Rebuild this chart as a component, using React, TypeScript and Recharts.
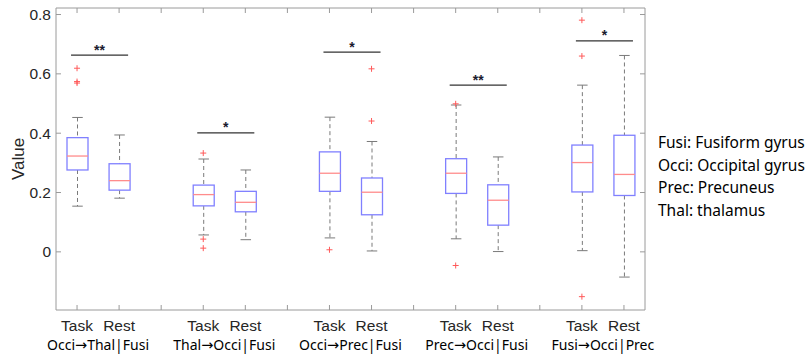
import React from 'react';
import { ComposedChart, Bar, Line, XAxis, YAxis, ReferenceLine } from 'recharts';

// one slot per box, with an empty slot between the groups
const slots = ['t1', 'r1', 'g1', 't2', 'r2', 'g2', 't3', 'r3', 'g3', 't4', 'r4', 'g4', 't5', 'r5'];
const tickLabels = ['Task', 'Rest', '', 'Task', 'Rest', '', 'Task', 'Rest', '', 'Task', 'Rest', '', 'Task', 'Rest'];
const groupFrom = ['Occi', 'Thal', 'Occi', 'Prec', 'Fusi'];
const groupTo = ['Thal|Fusi', 'Occi|Fusi', 'Prec|Fusi', 'Occi|Fusi', 'Occi|Prec'];

const whiskerLow = [0.154, 0.181, null, 0.057, 0.041, null, 0.047, 0.003, null, 0.044, 0.001, null, 0.004, -0.085];
const q1 = [0.276, 0.208, null, 0.155, 0.135, null, 0.204, 0.125, null, 0.197, 0.09, null, 0.202, 0.19];
const median = [0.323, 0.24, null, 0.193, 0.167, null, 0.265, 0.201, null, 0.265, 0.174, null, 0.301, 0.261];
const q3 = [0.385, 0.297, null, 0.225, 0.204, null, 0.337, 0.249, null, 0.314, 0.226, null, 0.36, 0.393];
const whiskerHigh = [0.453, 0.394, null, 0.313, 0.276, null, 0.454, 0.372, null, 0.495, 0.32, null, 0.562, 0.662];
const outliers: number[][] = [
  [0.619, 0.574, 0.569], [], [],
  [0.333, 0.043, 0.0125], [], [],
  [0.007], [0.617, 0.441], [],
  [0.499, -0.046], [], [],
  [0.781, 0.66, -0.151], [],
];

const sigLevels = [0.663, 0.401, 0.673, 0.562, 0.711];
const sigStars = ['**', '*', '*', '**', '*'];

const legendLines = ['Fusi: Fusiform gyrus', 'Occi: Occipital gyrus', 'Prec: Precuneus', 'Thal: thalamus'];

const yTicks = [0, 0.2, 0.4, 0.6, 0.8];

const data = slots.map((slot, i) => ({
  slot,
  whisker: whiskerLow[i] == null ? null : [whiskerLow[i], whiskerHigh[i]],
  lo: whiskerLow[i],
  q1: q1[i],
  median: median[i],
  q3: q3[i],
  hi: whiskerHigh[i],
  o1: outliers[i][0] ?? null,
  o2: outliers[i][1] ?? null,
  o3: outliers[i][2] ?? null,
}));

const AXIS = '#9a9a9a';
const TEXT = '#262626';
const SANS = '"Liberation Sans", Arial, sans-serif';
const NOTE = '"Noto Sans", "Open Sans", sans-serif';

const BoxShape = (props: any) => {
  const { x, y, width, height, payload } = props;
  if (!payload || payload.lo == null || !height) return <g />;
  const top = Math.min(y, y + height);
  const h = Math.abs(height);
  const k = h / (payload.hi - payload.lo);
  const py = (v: number) => top + (payload.hi - v) * k;
  const cx = x + width / 2;
  const cap = width / 4;
  return (
    <g>
      <line x1={cx} x2={cx} y1={py(payload.hi)} y2={py(payload.q3)} stroke="#7a7a7a" strokeDasharray="4 3" />
      <line x1={cx} x2={cx} y1={py(payload.q1)} y2={py(payload.lo)} stroke="#7a7a7a" strokeDasharray="4 3" />
      <line x1={cx - cap} x2={cx + cap} y1={py(payload.hi)} y2={py(payload.hi)} stroke="#7a7a7a" />
      <line x1={cx - cap} x2={cx + cap} y1={py(payload.lo)} y2={py(payload.lo)} stroke="#7a7a7a" />
      <rect x={x} y={py(payload.q3)} width={width} height={py(payload.q1) - py(payload.q3)} fill="#fff" stroke="#8080ff" strokeWidth={1.3} />
      <line x1={x} x2={x + width} y1={py(payload.median)} y2={py(payload.median)} stroke="#ff8c8c" strokeWidth={1.3} />
    </g>
  );
};

const PlusDot = (props: any) => {
  const { cx, cy, value } = props;
  if (value == null || cy == null || isNaN(cy)) return <g key={props.index} />;
  return (
    <g key={props.index}>
      <line x1={cx - 3} x2={cx + 3} y1={cy} y2={cy} stroke="#ff5a5a" />
      <line x1={cx} x2={cx} y1={cy - 3} y2={cy + 3} stroke="#ff5a5a" />
    </g>
  );
};

const SigShape = (props: any) => {
  const { x1, x2, y1, stars } = props;
  if (x1 == null) return <g />;
  return (
    <g>
      <line x1={x1 - 6} x2={x2 + 9} y1={y1} y2={y1} stroke="#333" strokeWidth={1.2} />
      <text x={(x1 + x2) / 2 + 1.5} y={y1 - 0.5} textAnchor="middle" fontFamily={SANS} fontWeight="bold" fontSize={14} fill="#1a1a2e">
        {stars}
      </text>
    </g>
  );
};

const BottomTick = (props: any) => {
  const { x, y, payload } = props;
  const i = payload.index;
  const label = tickLabels[i];
  const g = Math.floor(i / 3);
  return (
    <g>
      <line x1={x} x2={x} y1={y} y2={y - 5} stroke={AXIS} />
      {label && (
        <text x={x} y={y + 21} textAnchor="middle" fontFamily={SANS} fontSize={15.5} fill={TEXT}>
          {label}
        </text>
      )}
      {label === 'Task' && (
        <text x={x + 21} y={y + 40} textAnchor="middle" fontFamily={NOTE} fontSize={14} fill="#000">
          {groupFrom[g]}
          <tspan fontFamily='"DejaVu Sans", sans-serif' fontSize={14.5}>→</tspan>
          {groupTo[g]}
        </text>
      )}
    </g>
  );
};

const TopTick = (props: any) => {
  const { x, y } = props;
  return <line x1={x} x2={x} y1={y} y2={y + 5} stroke={AXIS} />;
};

const LeftTick = (props: any) => {
  const { x, y, payload } = props;
  return (
    <g>
      <line x1={x} x2={x + 5} y1={y} y2={y} stroke={AXIS} />
      <text x={x - 5} y={y + 5.5} textAnchor="end" fontFamily={SANS} fontSize={15.5} fill={TEXT}>
        {payload.value === 0 ? '0' : payload.value.toFixed(1)}
      </text>
    </g>
  );
};

const RightTick = (props: any) => {
  const { x, y } = props;
  return <line x1={x} x2={x - 5} y1={y} y2={y} stroke={AXIS} />;
};

const YLabel = (props: any) => {
  const { viewBox } = props;
  const cy = viewBox.y + viewBox.height / 2;
  return (
    <text x={18} y={cy} transform={`rotate(-90, 18, ${cy})`} textAnchor="middle" dominantBaseline="central" fontFamily={SANS} fontSize={17} fill={TEXT}>
      Value
    </text>
  );
};

export default function App() {
  return (
    <div style={{ position: 'absolute', left: 0, top: 0, width: 812, height: 356, background: '#fff' }}>
      <ComposedChart width={812} height={356} data={data} margin={{ top: 7, right: 162, bottom: 0, left: 0 }} barSize={21}>
        <XAxis
          dataKey="slot"
          xAxisId="bottom"
          interval={0}
          tickLine={false}
          tickSize={0}
          tickMargin={0}
          height={46}
          stroke={AXIS}
          tick={<BottomTick />}
        />
        <XAxis dataKey="slot" xAxisId="top" orientation="top" interval={0} tickLine={false} tickSize={0} tickMargin={0} height={1} stroke={AXIS} tick={<TopTick />} />
        <YAxis
          yAxisId="left"
          type="number"
          domain={[-0.196, 0.822]}
          ticks={yTicks}
          allowDataOverflow
          width={56}
          tickLine={false}
          tickSize={0}
          tickMargin={0}
          stroke={AXIS}
          tick={<LeftTick />}
          label={<YLabel />}
        />
        <YAxis
          yAxisId="right"
          orientation="right"
          type="number"
          domain={[-0.196, 0.822]}
          ticks={yTicks}
          allowDataOverflow
          width={5}
          tickLine={false}
          tickSize={0}
          tickMargin={0}
          stroke={AXIS}
          tick={<RightTick />}
        />
        <Bar dataKey="whisker" xAxisId="bottom" yAxisId="left" isAnimationActive={false} shape={(p: any) => <BoxShape {...p} />} />
        <Line dataKey="o1" xAxisId="bottom" yAxisId="left" stroke="none" isAnimationActive={false} activeDot={false} dot={(p: any) => <PlusDot {...p} key={p.index} />} />
        <Line dataKey="o2" xAxisId="bottom" yAxisId="left" stroke="none" isAnimationActive={false} activeDot={false} dot={(p: any) => <PlusDot {...p} key={p.index} />} />
        <Line dataKey="o3" xAxisId="top" yAxisId="right" stroke="none" isAnimationActive={false} activeDot={false} dot={(p: any) => <PlusDot {...p} key={p.index} />} />
        {sigLevels.map((lvl, g) => (
          <ReferenceLine
            key={g}
            xAxisId="bottom"
            yAxisId="left"
            segment={[{ x: slots[g * 3], y: lvl }, { x: slots[g * 3 + 1], y: lvl }]}
            shape={(p: any) => <SigShape {...p} stars={sigStars[g]} />}
          />
        ))}
      </ComposedChart>
      <div style={{ position: 'absolute', left: 658, top: 131, fontFamily: NOTE, fontSize: 15.5, lineHeight: '22.5px', color: '#000', whiteSpace: 'nowrap' }}>
        {legendLines.map((t) => (
          <div key={t}>{t}</div>
        ))}
      </div>
    </div>
  );
}
